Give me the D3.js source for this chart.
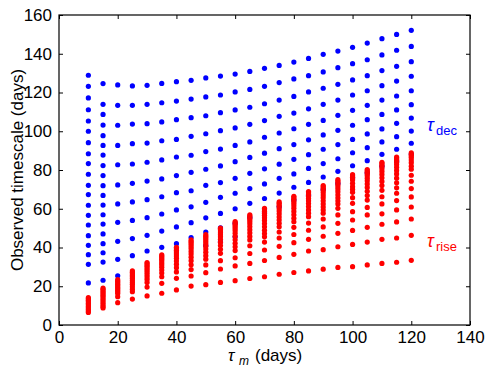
<!DOCTYPE html>
<html>
<head>
<meta charset="utf-8">
<script src="https://cdn.jsdelivr.net/npm/d3@7"></script>
<style>
  body { margin: 0; background: #fff; }
  text { font-family: "Liberation Sans", Arial, sans-serif; }
</style>
</head>
<body>
<div id="chart"></div>
<script>
// tau_m columns (days)
const tauM = [10, 15, 20, 25, 30, 35, 40, 45, 50, 55, 60, 65, 70, 75, 80, 85, 90, 95, 100, 105, 110, 115, 120]

// observed decline timescales, one list per tau_m column
const tauDec = [
  [128.9, 123.2, 117.2, 111.1, 105.3, 100, 94.1, 88.4, 83.3, 77.8, 72.1, 67.3, 61.8, 56.6, 51.6, 46.1, 41.1, 36.3, 31.3, 21.7],
  [124.6, 113.9, 108.7, 103.2, 97.7, 92.7, 87.7, 82.3, 77.1, 71.9, 66.9, 61.9, 56.9, 52.1, 47.0, 42.0, 37.3, 32.5, 23.1],
  [123.9, 113.4, 103.1, 92.7, 82.7, 72.3, 62.5, 53.0, 43.2, 33.9, 25.4],
  [123.4, 113.4, 103.7, 93.6, 83.1, 73.1, 63.5, 54.0, 44.6, 35.8],
  [123.7, 113.9, 103.9, 93.9, 84.0, 74.3, 64.7, 55.4, 46.3, 38.2],
  [124.7, 114.7, 104.8, 95.1, 85.2, 75.4, 66.2, 57.3, 48.5, 40.1],
  [125.6, 115.6, 106.0, 95.8, 86.7, 77.1, 68.3, 59.4, 50.6, 42.0],
  [126.3, 116.6, 107.0, 97.4, 87.6, 78.8, 69.3, 61.0, 52.8, 45.1],
  [127.5, 117.7, 108.0, 98.7, 89.5, 80.4, 72.1, 63.3, 55.3, 48.0, 41.0],
  [128.5, 118.7, 109.6, 100.3, 90.8, 82.1, 73.5, 65.9, 57.6, 50.2, 43.0],
  [129.5, 120.3, 111.0, 101.7, 92.7, 84.3, 75.7, 68.0, 60.0, 52.5, 45.5],
  [130.9, 121.6, 112.4, 103.6, 94.5, 86.5, 78.3, 70.4, 62.8, 55.5],
  [132.5, 123.2, 114.2, 105.5, 96.9, 88.7, 80.6, 72.8, 65.3, 58.0],
  [134.0, 125.1, 116.1, 107.7, 99.1, 91.0, 83.0, 75.7, 68.1, 61.0],
  [135.7, 127.0, 118.0, 109.4, 101.3, 93.1, 85.5, 78.0, 71.1, 64.5],
  [137.6, 128.7, 120.3, 111.6, 103.6, 95.6, 87.9, 80.8, 73.6, 67.0],
  [139.7, 130.6, 122.2, 113.9, 105.6, 98.1, 90.7, 83.3, 76.4, 70.0],
  [141.4, 132.8, 124.2, 116.1, 108.2, 100.5, 93.1, 85.8, 79.3, 73.0],
  [143.3, 134.9, 126.5, 118.7, 110.8, 103.1, 95.8, 88.9, 82.2, 76.0],
  [145.5, 136.9, 128.7, 120.9, 113.4, 106.0, 98.6, 91.5, 84.8, 78.5],
  [147.8, 139.4, 131.3, 123.5, 116.1, 108.7, 101.2, 94.5, 88.1, 82.0],
  [150.0, 141.8, 133.5, 125.9, 118.2, 111.0, 104.1, 97.2, 90.7, 84.5],
  [152.1, 143.8, 135.9, 128.4, 120.9, 113.7, 106.8, 100.1, 93.8, 88.2]
]

// observed rise timescales, one list per tau_m column
const tauRise = [
  [14.1, 13.5, 12.8, 12.0, 11.2, 10.4, 9.6, 8.8, 8.0, 7.2, 6.5],
  [19.1, 18.4, 17.6, 16.8, 16.0, 15.2, 14.4, 13.5, 12.6, 11.6, 10.6, 9.6, 8.8],
  [23.4, 22.6, 21.8, 21.0, 20.2, 19.4, 18.6, 17.8, 17.0, 16.2, 14.6, 11.5],
  [28.0, 27.2, 26.4, 25.6, 24.8, 24.0, 23.0, 22.0, 21.0, 19.8, 18.5, 17.2, 13.4],
  [32.2, 31.5, 30.7, 29.9, 29.0, 28.1, 27.1, 26.0, 24.8, 23.5, 22.0, 19.6, 15.0],
  [36.2, 35.5, 34.7, 33.9, 33.0, 32.0, 31.0, 29.8, 28.4, 26.8, 24.9, 21.5, 16.4],
  [40.1, 39.4, 38.6, 37.7, 36.7, 35.6, 34.4, 33.0, 31.4, 29.6, 27.4, 24.1, 18.1],
  [43.9, 43.1, 42.3, 41.4, 40.4, 39.3, 38.0, 36.6, 35.0, 33.2, 31.1, 28.6, 25.3, 20.1],
  [46.6, 45.8, 45.0, 44.1, 43.1, 42.0, 40.7, 39.2, 37.6, 35.8, 34.0, 31.0, 27.0, 20.8],
  [50.0, 49.3, 48.5, 47.6, 46.6, 45.5, 44.2, 42.7, 41.0, 39.1, 37.0, 33.2, 28.9, 22.0],
  [53.4, 52.7, 51.9, 51.0, 50.0, 48.8, 47.4, 45.8, 44.0, 42.2, 40.4, 38.4, 34.7, 30.5, 22.9],
  [56.9, 56.2, 55.4, 54.5, 53.4, 52.2, 50.8, 49.2, 47.5, 45.7, 43.9, 40.9, 36.9, 31.8, 24.0],
  [60.2, 59.5, 58.7, 57.7, 56.6, 55.4, 54.0, 52.4, 50.7, 48.9, 47.2, 45.5, 42.8, 38.7, 33.3, 24.9],
  [63.5, 62.8, 62.0, 61.1, 60.0, 58.8, 57.4, 55.8, 54.2, 52.5, 50.7, 48.0, 44.9, 40.6, 34.9, 26.2],
  [66.4, 65.7, 64.9, 63.9, 62.8, 61.6, 60.2, 58.6, 56.9, 55.1, 53.3, 50.4, 46.7, 42.5, 36.5, 27.1],
  [68.9, 68.2, 67.4, 66.4, 65.3, 64.1, 62.7, 61.1, 59.4, 57.7, 55.9, 52.6, 48.9, 44.2, 38.2, 27.9],
  [72.0, 71.3, 70.5, 69.5, 68.4, 67.1, 65.7, 64.1, 62.5, 60.9, 59.3, 57.7, 54.7, 50.6, 45.8, 38.9, 28.8],
  [75.0, 74.3, 73.5, 72.5, 71.4, 70.2, 68.8, 67.2, 65.6, 64.0, 62.4, 60.2, 56.8, 52.5, 47.3, 40.4, 29.7],
  [77.6, 76.9, 76.2, 75.5, 74.8, 73.1, 71.4, 70.0, 68.5, 65.7, 62.8, 58.5, 54.2, 48.8, 41.6, 30.1],
  [80.2, 79.5, 78.8, 78.0, 77.0, 75.8, 74.4, 72.8, 71.0, 69.0, 66.8, 64.5, 60.7, 56.8, 50.4, 42.8, 31.0],
  [84.0, 83.3, 82.5, 81.6, 80.5, 79.2, 77.7, 76.0, 74.1, 72.0, 69.5, 66.2, 62.5, 57.4, 52.0, 44.2, 31.8],
  [86.6, 85.8, 85.0, 84.0, 82.8, 81.4, 79.8, 78.0, 75.8, 73.4, 70.8, 68.0, 64.2, 59.4, 53.2, 44.9, 32.4],
  [88.8, 88.0, 87.2, 86.4, 85.2, 83.8, 82.0, 80.4, 77.3, 74.2, 70.4, 66.1, 60.9, 54.7, 46.3, 33.4]
]

const xTicks = [0, 20, 40, 60, 80, 100, 120, 140]
const yTicks = [0, 20, 40, 60, 80, 100, 120, 140, 160]

const width = 490
const height = 370
const margin = { top: 15, right: 20, bottom: 45, left: 59 }
const innerW = width - margin.left - margin.right
const innerH = height - margin.top - margin.bottom

const svg = d3.select('#chart').append('svg')
  .attr('width', width)
  .attr('height', height)

const g = svg.append('g').attr('transform', `translate(${margin.left},${margin.top})`)

const x = d3.scaleLinear().domain([0, 140]).range([0, innerW])
const y = d3.scaleLinear().domain([0, 160]).range([innerH, 0])

// flatten columns into points
const bluePts = []
tauDec.forEach((col, i) => col.forEach(v => bluePts.push([tauM[i], v])))
const redPts = []
tauRise.forEach((col, i) => col.forEach(v => redPts.push([tauM[i], v])))

const r = 2.6
g.append('g').selectAll('circle').data(bluePts).join('circle')
  .attr('cx', d => x(d[0]))
  .attr('cy', d => y(d[1]))
  .attr('r', r)
  .attr('fill', '#0000ff')

g.append('g').selectAll('circle').data(redPts).join('circle')
  .attr('cx', d => x(d[0]))
  .attr('cy', d => y(d[1]))
  .attr('r', r)
  .attr('fill', '#ff0000')

// axes, ticks pointing inwards on all four sides
const tickLen = 4
const fontSize = 17
const axisStyle = (sel) => {
  sel.select('.domain').remove()
  sel.selectAll('.tick line').attr('stroke', '#000').attr('stroke-width', 1)
  sel.selectAll('.tick text').attr('font-size', fontSize).attr('fill', '#000')
    .attr('font-family', '"Liberation Sans", Arial, sans-serif')
}

g.append('g')
  .attr('transform', `translate(0,${innerH})`)
  .call(d3.axisBottom(x).tickValues(xTicks).tickFormat(d3.format('d')).tickSizeInner(-tickLen).tickSizeOuter(0).tickPadding(6))
  .call(axisStyle)

g.append('g')
  .call(d3.axisTop(x).tickValues(xTicks).tickFormat('').tickSizeInner(-tickLen).tickSizeOuter(0))
  .call(axisStyle)

g.append('g')
  .call(d3.axisLeft(y).tickValues(yTicks).tickFormat(d3.format('d')).tickSizeInner(-tickLen).tickSizeOuter(0).tickPadding(7))
  .call(axisStyle)

g.append('g')
  .attr('transform', `translate(${innerW},0)`)
  .call(d3.axisRight(y).tickValues(yTicks).tickFormat('').tickSizeInner(-tickLen).tickSizeOuter(0))
  .call(axisStyle)

// frame
g.append('rect')
  .attr('width', innerW)
  .attr('height', innerH)
  .attr('fill', 'none')
  .attr('stroke', '#000')
  .attr('stroke-width', 1.2)

// axis labels
svg.append('text')
  .attr('transform', `translate(23,${margin.top + innerH / 2}) rotate(-90)`)
  .attr('text-anchor', 'middle')
  .attr('font-size', fontSize)
  .text('Observed timescale (days)')

// x label: tau_m (days), pieces placed side by side
svg.append('text')
  .attr('x', 228).attr('y', 361)
  .attr('font-size', fontSize).attr('font-style', 'italic')
  .text('τ')
svg.append('text')
  .attr('x', 239).attr('y', 365)
  .attr('font-size', 12).attr('font-style', 'italic')
  .text('m')
svg.append('text')
  .attr('x', 255).attr('y', 361)
  .attr('font-size', fontSize)
  .text('(days)')

// series labels
const addLabel = (sub, color, yy) => {
  svg.append('text')
    .attr('x', 427).attr('y', yy)
    .attr('font-size', 18).attr('font-style', 'italic')
    .attr('fill', color)
    .text('τ')
  svg.append('text')
    .attr('x', 436).attr('y', yy + 4)
    .attr('font-size', 13)
    .attr('fill', color)
    .text(sub)
}
addLabel('dec', '#0000ff', 131)
addLabel('rise', '#ff0000', 247)
</script>
</body>
</html>
